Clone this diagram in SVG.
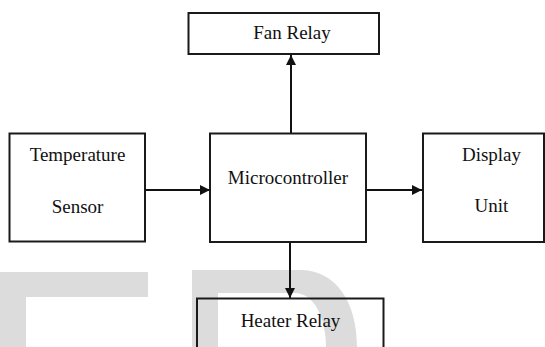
<svg xmlns="http://www.w3.org/2000/svg" width="545" height="347" viewBox="0 0 545 347">
  <style>
    .box { fill: none; stroke: #1a1a1a; stroke-width: 2; }
    .lbl { font-family: 'Liberation Serif', 'DejaVu Serif', serif; font-size: 19px; fill: #111; text-anchor: middle; }
    .conn { stroke: #111; stroke-width: 2; fill: none; }
    .wm { fill: #dcdcdc; }
  </style>
  <defs>
    <marker id="arr" markerWidth="10" markerHeight="10" refX="10" refY="5" orient="auto" markerUnits="userSpaceOnUse">
      <path d="M0,0 L10,5 L0,10 Z" fill="#111"/>
    </marker>
  </defs>
  <rect width="545" height="347" fill="#ffffff"/>
  <g id="watermark">
    <path class="wm" d="M0,272 H148 V297 H26 V347 H0 Z"/>
    <path class="wm" fill-rule="evenodd" d="M192,347 V270 H300 C336,270 357,302 357,347 Z M218,347 V293 H295 C314,293 326,318 326,347 Z"/>
  </g>
  <g id="connectors">
    <line class="conn" x1="146" y1="190" x2="210" y2="190" marker-end="url(#arr)"/>
    <line class="conn" x1="366" y1="190" x2="422" y2="190" marker-end="url(#arr)"/>
    <line class="conn" x1="291" y1="133" x2="291" y2="55" marker-end="url(#arr)"/>
    <line class="conn" x1="290" y1="243" x2="290" y2="298" marker-end="url(#arr)"/>
  </g>
  <g id="fan-relay">
    <rect class="box" x="188.5" y="13" width="190.5" height="41"/>
    <text class="lbl" font-family="Liberation Serif, serif" x="292" y="39">Fan Relay</text>
  </g>
  <g id="temperature-sensor">
    <rect class="box" x="9.5" y="133.5" width="135.5" height="108"/>
    <text class="lbl" font-family="Liberation Serif, serif" x="77.5" y="161">Temperature</text>
    <text class="lbl" font-family="Liberation Serif, serif" x="77.5" y="213">Sensor</text>
  </g>
  <g id="microcontroller">
    <rect class="box" x="210" y="133.5" width="156" height="108.5"/>
    <text class="lbl" font-family="Liberation Serif, serif" x="288" y="184">Microcontroller</text>
  </g>
  <g id="display-unit">
    <rect class="box" x="423" y="133.5" width="121" height="108.5"/>
    <text class="lbl" font-family="Liberation Serif, serif" x="491.5" y="161">Display</text>
    <text class="lbl" font-family="Liberation Serif, serif" x="491.5" y="212">Unit</text>
  </g>
  <g id="heater-relay">
    <rect class="box" x="197" y="298.5" width="186.5" height="60"/>
    <text class="lbl" font-family="Liberation Serif, serif" x="290.5" y="327">Heater Relay</text>
  </g>
</svg>
